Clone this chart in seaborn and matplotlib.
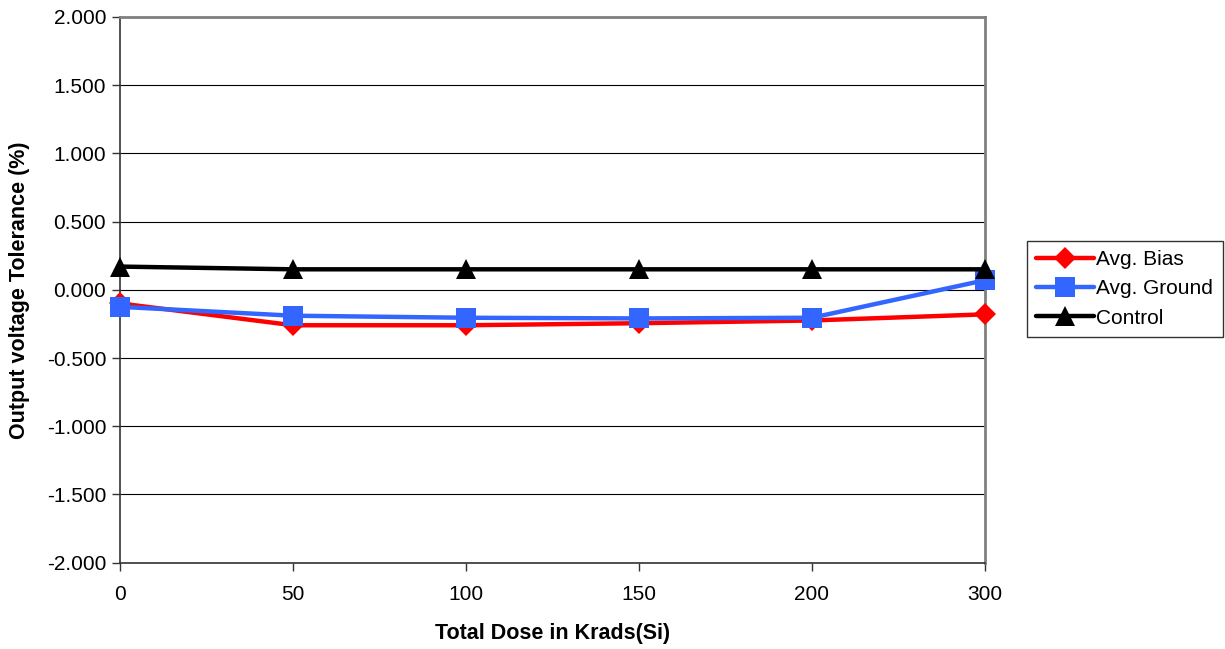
import numpy as np
import pandas as pd
import matplotlib
matplotlib.use("Agg")
import matplotlib.pyplot as plt
import seaborn as sns
from matplotlib.ticker import FormatStrFormatter

# Data
doses = ["0", "50", "100", "150", "200", "300"]
avg_bias = [-0.10, -0.26, -0.26, -0.245, -0.225, -0.18]
avg_ground = [-0.125, -0.19, -0.205, -0.21, -0.205, 0.07]
control = [0.17, 0.15, 0.15, 0.15, 0.15, 0.15]

sns.set_style("white")
plt.rcParams["font.family"] = ["Liberation Sans", "DejaVu Sans"]
plt.rcParams["text.color"] = "black"
plt.rcParams["axes.labelcolor"] = "black"
plt.rcParams["xtick.color"] = "black"
plt.rcParams["ytick.color"] = "black"

fig, ax = plt.subplots(figsize=(12.25, 6.49), dpi=100)
fig.subplots_adjust(left=0.098, right=0.804, top=0.974, bottom=0.133)

series = [
    ("Avg. Bias", avg_bias, "#ff0000", "D", 11),
    ("Avg. Ground", avg_ground, "#3366ff", "s", 14),
    ("Control", control, "#000000", "^", 15),
]

for name, vals, color, marker, ms in series:
    df = pd.DataFrame({"dose": doses, "value": vals})
    sns.lineplot(data=df, x="dose", y="value", ax=ax, color=color, linewidth=3.2,
                 marker=marker, markersize=ms, markeredgewidth=0, label=name, sort=False,
                 clip_on=False, zorder=3)

ax.set_xlim(0, len(doses) - 1)
ax.set_ylim(-2, 2)
ax.set_yticks(np.arange(-2, 2.01, 0.5))
ax.yaxis.set_major_formatter(FormatStrFormatter("%.3f"))
ax.yaxis.grid(True, color="black", linewidth=0.8)
ax.set_axisbelow(True)

ax.tick_params(axis="both", labelsize=15, direction="out", length=6, width=1, color="#333333",
               left=True, bottom=True)
ax.tick_params(axis="x", pad=10)
ax.tick_params(axis="y", pad=4)
for side in ["left", "bottom"]:
    ax.spines[side].set_color("#333333")
    ax.spines[side].set_linewidth(1.2)
for side in ["top", "right"]:
    ax.spines[side].set_color("#808080")
    ax.spines[side].set_linewidth(2)

ax.set_xlabel("Total Dose in Krads(Si)", fontsize=15.5, fontweight="bold", labelpad=14)
ax.set_ylabel("Output voltage Tolerance (%)", fontsize=15.5, fontweight="bold", labelpad=12)

leg = ax.legend(loc="center left", bbox_to_anchor=(0.838, 0.555), bbox_transform=fig.transFigure,
                fontsize=15, frameon=True, fancybox=False, edgecolor="black", handlelength=2.8,
                handletextpad=0.1, borderpad=0.45, labelspacing=0.5, borderaxespad=0)
leg.get_frame().set_linewidth(1)

plt.savefig("out.png", dpi=100)
